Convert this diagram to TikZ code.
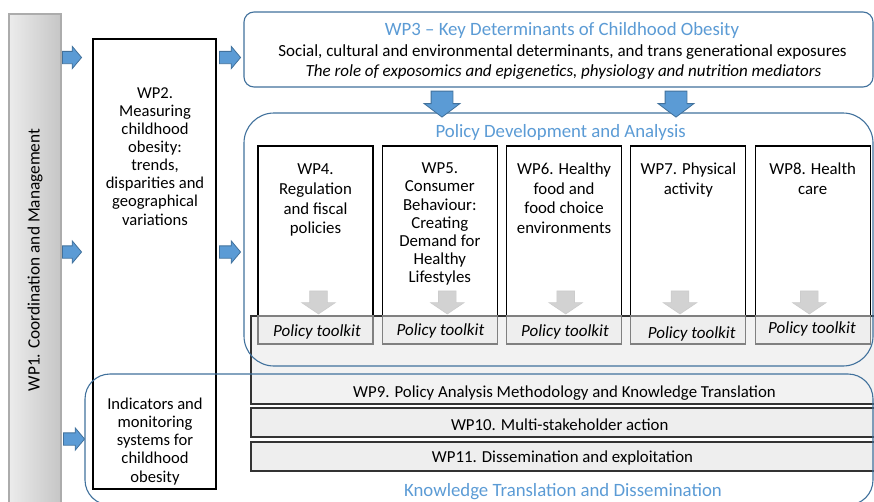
\documentclass[tikz,border=0pt]{standalone}
\usepackage{fontspec}
\setmainfont{Carlito}
\usetikzlibrary{shapes.arrows}
\definecolor{wpblue}{RGB}{91,155,213}
\definecolor{wpline}{RGB}{65,113,156}
\definecolor{panelgray}{RGB}{242,242,242}
\definecolor{kitgray}{RGB}{238,238,238}
\begin{document}
\begin{tikzpicture}[x=1pt, y=-1pt, line width=1.1pt, font=\fontsize{16.8}{19.6}\selectfont]
        \useasboundingbox (0,0) rectangle (874,501);
        \begin{scope}[every node/.style={draw, inner sep=0, outer sep=0}]
            \node [draw=gray!65, left color=gray!15, right color=gray!45, minimum width=52, minimum height=500] (wp1) at (35,264) {};
            \node [fill=white, minimum width=123, minimum height=450] (wp2) at (154.5,264) {};
            \node [draw=black!80, fill=panelgray, minimum width=629, minimum height=88] (wp9) at (565.5,360) {};
            \node [draw=black!80, fill=kitgray, minimum width=629, minimum height=29] (wp10) at (565.5,422.5) {};
            \node [draw=black!80, fill=kitgray, minimum width=629, minimum height=29] (wp11) at (565.5,456.5) {};
            \node [fill=white, minimum width=115, minimum height=198] (wp4) at (315.5,245) {};
            \node [fill=white, minimum width=115, minimum height=198] (wp5) at (439.8,245) {};
            \node [fill=white, minimum width=115, minimum height=198] (wp6) at (564.1,245) {};
            \node [fill=white, minimum width=115, minimum height=198] (wp7) at (688.4,245) {};
            \node [fill=white, minimum width=115, minimum height=198] (wp8) at (812.7,245) {};
            \node [draw=gray, fill=kitgray, minimum width=115, minimum height=28] (kit4) at (315.5,330) {};
            \node [draw=gray, fill=kitgray, minimum width=115, minimum height=28] (kit5) at (439.8,330) {};
            \node [draw=gray, fill=kitgray, minimum width=115, minimum height=28] (kit6) at (564.1,330) {};
            \node [draw=gray, fill=kitgray, minimum width=115, minimum height=28] (kit7) at (688.4,330) {};
            \node [draw=gray, fill=kitgray, minimum width=115, minimum height=28] (kit8) at (812.7,330) {};
            \node [draw=wpline, fill=white, rounded corners=10, minimum width=629, minimum height=75] (wp3) at (558.5,49.5) {};
            \node [draw=wpline, rounded corners=30, minimum width=629, minimum height=253] (pda) at (558.5,239.5) {};
            \node [draw=wpline, rounded corners=25, minimum width=788, minimum height=131] (ktd) at (479,439.5) {};
        \end{scope}
        \begin{scope}[every node/.style={single arrow, draw=wpline, line width=0.8pt, fill=wpblue, inner xsep=0, outer sep=0, single arrow head indent=0}]
            \node [minimum height=19, inner ysep=5.75, single arrow head extend=5, single arrow tip angle=100] (a1) at (69.5,57.5) {};
            \node [minimum height=19, inner ysep=5.75, single arrow head extend=5, single arrow tip angle=100] (a2) at (69.5,252) {};
            \node [minimum height=21, inner ysep=5.75, single arrow head extend=5, single arrow tip angle=100] (a3) at (71.5,439) {};
            \node [minimum height=21, inner ysep=5.75, single arrow head extend=5, single arrow tip angle=100] (b1) at (227.5,57.5) {};
            \node [minimum height=21, inner ysep=5.75, single arrow head extend=5, single arrow tip angle=100] (b2) at (227.5,252) {};
            \node [rotate=-90, minimum height=26, inner ysep=10.5, single arrow head extend=7, single arrow tip angle=106] (c1) at (442,100) {};
            \node [rotate=-90, minimum height=26, inner ysep=10.5, single arrow head extend=7, single arrow tip angle=106] (c2) at (676,100) {};
        \end{scope}
        \begin{scope}[every node/.style={single arrow, rotate=-90, draw=gray!40, line width=0.6pt, fill=gray!35, inner xsep=0, inner ysep=8.5, outer sep=0, single arrow head indent=0, minimum height=23, single arrow head extend=8, single arrow tip angle=112}]
            \node (g4) at (318.5,299.5) {};
            \node (g5) at (447.3,299.5) {};
            \node (g6) at (565.7,299.5) {};
            \node (g7) at (680,299.5) {};
            \node (g8) at (809.3,299.5) {};
        \end{scope}
        \begin{scope}[every node/.style={inner sep=0, align=center}]
            \node [rotate=90, font=\fontsize{17.3}{20}\selectfont] (t1) at (35,260) {WP1. Coordination and Management};
            \node [anchor=north, font=\fontsize{16.6}{18.1}\selectfont] (t2) at (155,87) {WP2.\\Measuring\\childhood\\obesity:\\trends,\\disparities and\\geographical\\variations};
            \node [anchor=north, font=\fontsize{16.6}{18.3}\selectfont] (t2b) at (155,397) {Indicators and\\monitoring\\systems for\\childhood\\obesity};
            \node [anchor=base, text=wpblue, font=\fontsize{18.8}{20}\selectfont] (t3) at (562,35) {WP3 -- Key Determinants of Childhood Obesity};
            \node [anchor=base, font=\fontsize{17}{20}\selectfont] (t3a) at (562.5,56.7) {Social, cultural and environmental determinants, and trans generational exposures};
            \node [anchor=base, font=\fontsize{17}{20}\itshape] (t3b) at (563.5,76) {The role of exposomics and epigenetics, physiology and nutrition mediators};
            \node [anchor=base, text=wpblue, font=\fontsize{18.8}{20}\selectfont] (tp) at (560.7,137.7) {Policy Development and Analysis};
            \node [anchor=north] (t4) at (315.5,163.5) {WP4.\\Regulation\\and fiscal\\policies};
            \node [anchor=north, font=\fontsize{16.8}{18.2}\selectfont] (t5) at (439.8,162.3) {WP5.\\Consumer\\Behaviour:\\Creating\\Demand for\\Healthy\\Lifestyles};
            \node [anchor=north] (t6) at (564.1,162.5) {WP6. Healthy\\food and\\food choice\\environments};
            \node [anchor=north] (t7) at (688.4,162.5) {WP7. Physical\\activity};
            \node [anchor=north] (t8) at (812.7,162.5) {WP8. Health\\care};
            \node [anchor=base, font=\fontsize{17}{19}\itshape] (k4) at (317,336.7) {Policy toolkit};
            \node [anchor=base, font=\fontsize{17}{19}\itshape] (k5) at (440.5,335) {Policy toolkit};
            \node [anchor=base, font=\fontsize{17}{19}\itshape] (k6) at (565,336.7) {Policy toolkit};
            \node [anchor=base, font=\fontsize{17}{19}\itshape] (k7) at (691.7,338) {Policy toolkit};
            \node [anchor=base, font=\fontsize{17}{19}\itshape] (k8) at (812,333.3) {Policy toolkit};
            \node [anchor=base] (t9) at (564.5,397.7) {WP9. Policy Analysis Methodology and Knowledge Translation};
            \node [anchor=base] (t10) at (559.7,430.7) {WP10. Multi-stakeholder action};
            \node [anchor=base] (t11) at (562.5,462.7) {WP11. Dissemination and exploitation};
            \node [anchor=base, text=wpblue, font=\fontsize{18.8}{20}\selectfont] (tk) at (563,496) {Knowledge Translation and Dissemination};
        \end{scope}
    \end{tikzpicture}
\end{document}
